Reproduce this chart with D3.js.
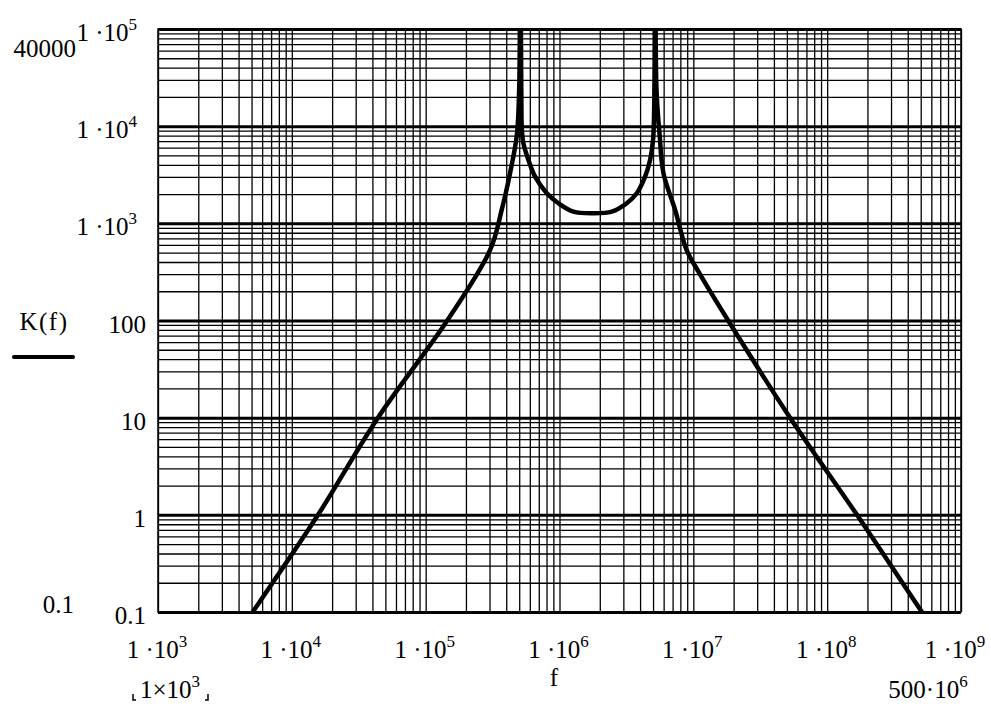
<!DOCTYPE html>
<html>
<head>
<meta charset="utf-8">
<script src="https://cdn.jsdelivr.net/npm/d3@7"></script>
<style>
  body { margin: 0; background: #fff; }
  svg text { font-family: "Liberation Serif", "Times New Roman", serif; fill: #000; }
</style>
</head>
<body>
<div id="chart"></div>
<script>
// curve K(f) (log-log)
const freq = [5.1e3, 1.57e4, 4.4e4, 1.45e5, 3.03e5, 3.7e5, 4.27e5, 4.8e5, 5.0e5, 5.08e5,
  5.18e5, 5.32e5, 5.86e5, 6.57e5, 8.04e5, 9.82e5, 1.27e6, 1.78e6, 2.46e6, 3.18e6, 3.78e6,
  4.36e6, 4.75e6, 5.0e6, 5.12e6, 5.2e6, 5.3e6, 5.6e6, 5.98e6, 7.31e6, 8.9e6, 1.12e7,
  1.82e7, 5.28e7, 1.67e8, 5.1e8];
const gain = [0.1, 1, 10, 100, 532, 1374, 3275, 8100, 25000, 1e7,
  25000, 7210, 4490, 3020, 2042, 1610, 1320, 1270, 1320, 1610, 2042,
  3020, 4490, 7210, 25000, 1e7, 25000, 8100, 3275, 1374, 532, 300,
  100, 10, 1, 0.1];

const xDecades = [1e3, 1e4, 1e5, 1e6, 1e7, 1e8, 1e9];
const xTickLabels = [["1 ·10", "3"], ["1 ·10", "4"], ["1 ·10", "5"], ["1 ·10", "6"],
  ["1 ·10", "7"], ["1 ·10", "8"], ["1 ·10", "9"]];
const yDecades = [0.1, 1, 10, 100, 1e3, 1e4, 1e5];
const yTickLabels = [["0.1", ""], ["1", ""], ["10", ""], ["100", ""],
  ["1 ·10", "3"], ["1 ·10", "4"], ["1 ·10", "5"]];
const yLimits = ["40000", "0.1"];
const xLimits = [["1×10", "3"], ["500·10", "6"]];
const traceName = "K(f)";
const xName = "f";

var margin = { top: 29, right: 30, bottom: 92, left: 158 },
  width = 991 - margin.left - margin.right,
  height = 704 - margin.top - margin.bottom;

var x = d3.scaleLog().domain([1e3, 1e9]).range([0, width]);
var y = d3.scaleLog().domain([0.1, 1e5]).range([height, 0]);

var svg = d3.select("#chart")
  .append("svg")
  .attr("width", 991)
  .attr("height", 704);

var g = svg.append("g")
  .attr("transform", `translate(${margin.left}, ${margin.top})`);

// minor grid: 1..9 within every decade
const xMinor = [];
xDecades.slice(0, -1).forEach(d => d3.range(1, 10).forEach(m => xMinor.push(m * d)));
xMinor.push(1e9);
const yMinor = [];
yDecades.slice(0, -1).forEach(d => d3.range(1, 10).forEach(m => yMinor.push(m * d)));
yMinor.push(1e5);

g.append("g")
  .attr("class", "grid-x")
  .call(d3.axisBottom(x).tickValues(xMinor).tickSize(height).tickFormat(""))
  .call(s => s.select(".domain").remove());

g.append("g")
  .attr("class", "grid-y")
  .call(d3.axisLeft(y).tickValues(yMinor).tickSize(-width).tickFormat(""))
  .call(s => s.select(".domain").remove());

g.selectAll(".tick line")
  .attr("stroke", "#000")
  .attr("stroke-width", 1.3);

// heavier lines at the decades (horizontal)
g.append("g")
  .attr("class", "grid-y-major")
  .call(d3.axisLeft(y).tickValues(yDecades).tickSize(-width).tickFormat(""))
  .call(s => s.select(".domain").remove())
  .selectAll("line")
  .attr("stroke", "#000")
  .attr("stroke-width", 3);

g.append("rect")
  .attr("width", width)
  .attr("height", height)
  .attr("fill", "none")
  .attr("stroke", "#000")
  .attr("stroke-width", 1.5);

// curve
g.append("clipPath").attr("id", "plotClip")
  .append("rect").attr("width", width).attr("height", height);

var line = d3.line()
  .curve(d3.curveCatmullRom.alpha(0.5))
  .x(d => x(d[0]))
  .y(d => y(d[1]));

g.append("path")
  .datum(d3.zip(freq, gain))
  .attr("clip-path", "url(#plotClip)")
  .attr("fill", "none")
  .attr("stroke", "#000")
  .attr("stroke-width", 4.5)
  .attr("stroke-linejoin", "round")
  .attr("d", line);

// text with an optional superscript
function label(px, py, parts, anchor, size) {
  var t = svg.append("text")
    .attr("x", px).attr("y", py)
    .attr("text-anchor", anchor)
    .attr("font-size", size || 25);
  t.append("tspan").text(parts[0]);
  if (parts[1]) {
    t.append("tspan").attr("dy", -11).attr("font-size", 17).text(parts[1]);
  }
  return t;
}

// y tick labels
yDecades.forEach((v, i) => {
  var parts = yTickLabels[i];
  var px = parts[1] ? 137 : 146;
  label(px, margin.top + y(v) + 12, parts, "end");
});

// x tick labels
xDecades.forEach((v, i) => {
  var px = margin.left + x(v) - 1;
  if (i === xDecades.length - 1) px = Math.min(px, 955);
  label(px, 658, xTickLabels[i], "middle");
});

// axis limits and names
label(76, 57, [yLimits[0], ""], "end");
label(74, 613, [yLimits[1], ""], "end");
label(170, 698, xLimits[0], "middle");
label(928, 698, xLimits[1], "middle");
label(554, 686, [xName, ""], "middle");

// little corner marks around the lower x limit
svg.append("path")
  .attr("d", "M133,694 v6 h3 M208,694 v6 h-3")
  .attr("stroke", "#000").attr("fill", "none").attr("stroke-width", 1.5);

// legend
label(44, 330, [traceName, ""], "middle").attr("letter-spacing", 1.5);
svg.append("line")
  .attr("x1", 14).attr("x2", 73)
  .attr("y1", 357).attr("y2", 357)
  .attr("stroke", "#000")
  .attr("stroke-width", 4)
  .attr("stroke-linecap", "round");
</script>
</body>
</html>
